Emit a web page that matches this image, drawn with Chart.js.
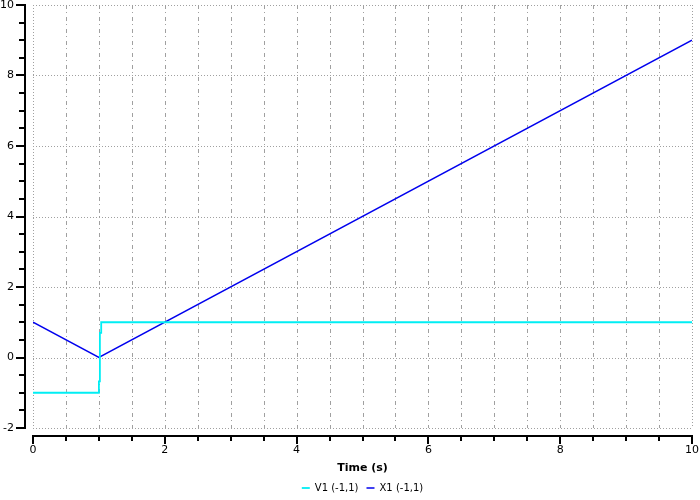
<!DOCTYPE html>
<html>
<head>
<meta charset="utf-8">
<script src="https://cdn.jsdelivr.net/npm/chart.js@4/dist/chart.umd.min.js"></script>
<style>
html,body{margin:0;padding:0;background:#fff;}
#wrap{width:700px;height:500px;}
</style>
</head>
<body>
<div id="wrap"><canvas id="c" width="700" height="500"></canvas></div>
<script>
// ---- data ----
const v1Time   = [0, 1, 1, 1.015, 1.015, 1.035, 1.035, 10];
const v1Values = [-1, -1, -0.68, -0.68, 0.7, 0.7, 1, 1];
const x1Time   = [0, 1, 10];
const x1Values = [1, 0, 9];
const seriesNames = ['V1 (-1,1)', 'X1 (-1,1)'];
const xTickValues = [0, 2, 4, 6, 8, 10];
const yTickValues = [-2, 0, 2, 4, 6, 8, 10];
const xMinorStep = 0.5;
const yMinorStep = 0.5;
const xTitle = 'Time (s)';

const toPoints = (xs, ys) => xs.map((x, i) => ({x: x, y: ys[i]}));

Chart.defaults.font.family = "'DejaVu Sans', sans-serif";
Chart.defaults.font.size = 10;
Chart.defaults.color = '#000';

const AXIS_GAP = 7;

const axesPlugin = {
  id: 'offsetAxes',
  beforeDatasetsDraw(chart) {
    const {ctx, chartArea: a, scales: {x, y}} = chart;
    ctx.save();
    ctx.strokeStyle = '#a0a0a0';
    ctx.lineWidth = 1;
    const nx = Math.round((x.max - x.min) / xMinorStep);
    for (let i = 0; i <= nx; i++) {
      const v = x.min + i * xMinorStep;
      const px = Math.round(x.getPixelForValue(v)) + 0.5;
      const edge = (i === 0 || i === nx);
      ctx.setLineDash(edge ? [1, 2] : [4, 3, 1, 4]);
      ctx.beginPath();
      ctx.moveTo(px, a.top);
      ctx.lineTo(px, a.bottom);
      ctx.stroke();
    }
    ctx.setLineDash([1, 2]);
    yTickValues.forEach(v => {
      const py = Math.round(y.getPixelForValue(v)) + 0.5;
      ctx.beginPath();
      ctx.moveTo(a.left, py);
      ctx.lineTo(a.right, py);
      ctx.stroke();
    });
    ctx.restore();
  },
  afterDraw(chart) {
    const {ctx, chartArea: a, scales: {x, y}} = chart;
    ctx.save();
    ctx.fillStyle = '#000';
    const ax = a.left - AXIS_GAP - 1;
    const yTop = Math.round(y.getPixelForValue(y.max));
    const yBot = Math.round(y.getPixelForValue(y.min));
    ctx.fillRect(ax - 1, yTop - 1, 2, yBot - yTop + 2);
    const ny = Math.round((y.max - y.min) / yMinorStep);
    for (let i = 0; i <= ny; i++) {
      const v = y.min + i * yMinorStep;
      const py = Math.round(y.getPixelForValue(v));
      const major = yTickValues.some(t => Math.abs(t - v) < 1e-9);
      const len = major ? 8 : 5;
      ctx.fillRect(ax - 1 - len, py - 1, len, 2);
    }
    const ay = a.bottom + AXIS_GAP;
    const xL = Math.round(x.getPixelForValue(x.min));
    const xR = Math.round(x.getPixelForValue(x.max));
    ctx.fillRect(xL - 1, ay, xR - xL + 2, 2);
    const nx = Math.round((x.max - x.min) / xMinorStep);
    for (let i = 0; i <= nx; i++) {
      const v = x.min + i * xMinorStep;
      const px = Math.round(x.getPixelForValue(v));
      const major = xTickValues.some(t => Math.abs(t - v) < 1e-9);
      const len = major ? 8 : 5;
      ctx.fillRect(px - 1, ay, 2, len + 1);
    }
    ctx.restore();
  }
};

new Chart(document.getElementById('c'), {
  type: 'line',
  data: {
    datasets: [
      {
        label: seriesNames[0],
        data: toPoints(v1Time, v1Values),
        borderColor: '#00EEF4',
        backgroundColor: '#00EEF4',
        borderWidth: 1.8,
        pointRadius: 0,
        fill: false,
        tension: 0
      },
      {
        label: seriesNames[1],
        data: toPoints(x1Time, x1Values),
        borderColor: '#0000EE',
        backgroundColor: '#0000EE',
        borderWidth: 1.5,
        pointRadius: 0,
        fill: false,
        tension: 0
      }
    ]
  },
  options: {
    responsive: false,
    animation: false,
    devicePixelRatio: 1,
    layout: { padding: { left: 0, right: 8, top: 5, bottom: 0 } },
    plugins: {
      legend: {
        position: 'bottom',
        fullSize: false,
        maxHeight: 25,
        labels: {
          usePointStyle: true,
          pointStyle: 'line',
          pointStyleWidth: 8,
          padding: 8,
          color: '#000',
          font: { size: 10 }
        }
      },
      tooltip: { enabled: false }
    },
    scales: {
      x: {
        type: 'linear',
        min: 0,
        max: 10,
        afterBuildTicks: s => { s.ticks = xTickValues.map(v => ({value: v})); },
        afterFit: s => { s.height = 47; s.paddingLeft = 0; s.paddingRight = 0; },
        grid: { display: true, drawOnChartArea: false, color: 'transparent', tickColor: 'transparent', tickLength: 12 },
        border: { display: false },
        ticks: { padding: 4, color: '#000', font: { size: 11 }, maxRotation: 0, autoSkip: false },
        title: { display: true, text: xTitle, color: '#000', font: { size: 11, weight: 'bold' }, padding: { top: 0, bottom: 0 } }
      },
      y: {
        type: 'linear',
        min: -2,
        max: 10,
        afterBuildTicks: s => { s.ticks = yTickValues.map(v => ({value: v})); },
        afterFit: s => { s.width = 33; s.paddingTop = 0; s.paddingBottom = 0; },
        grid: { display: true, drawOnChartArea: false, color: 'transparent', tickColor: 'transparent', tickLength: 15 },
        border: { display: false },
        ticks: { padding: 4, color: '#000', font: { size: 11 }, autoSkip: false }
      }
    }
  },
  plugins: [axesPlugin]
});
</script>
</body>
</html>
